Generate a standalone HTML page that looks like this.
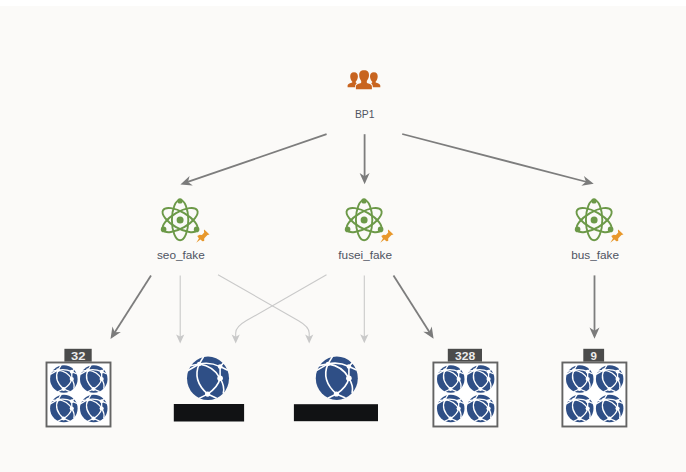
<!DOCTYPE html>
<html><head><meta charset="utf-8">
<style>
html,body{margin:0;padding:0;background:#fff;}
body{width:686px;height:472px;overflow:hidden;font-family:"Liberation Sans",sans-serif;}
svg{display:block}
text{font-family:"Liberation Sans",sans-serif;}
</style></head><body>
<svg width="686" height="472" viewBox="0 0 686 472">
<defs>
  <g id="atom" fill="none" stroke="#6c9948" stroke-width="1.9">
    <ellipse cx="0" cy="0" rx="8.2" ry="20.2"/>
    <ellipse cx="0" cy="0" rx="8.1" ry="19.7" transform="rotate(60)"/>
    <ellipse cx="0" cy="0" rx="8.1" ry="19.7" transform="rotate(-60)"/>
    <circle cx="0" cy="0" r="3.5" fill="#6c9948" stroke="none"/>
    <circle cx="-0.1" cy="-19.2" r="2.7" fill="#6c9948" stroke="none"/>
    <circle cx="-16.5" cy="9.3" r="2.8" fill="#6c9948" stroke="none"/>
    <circle cx="16.5" cy="9.3" r="2.8" fill="#6c9948" stroke="none"/>
    <path fill="#e8982c" stroke="none" d="M24.1,9.5 L29.4,14.3 L27.4,14.8 L25.4,16.8 L24.1,18.4 L24.1,20.9 L22.3,21.2 L20.3,19.4 L16.2,22.7 L18.8,18.4 L17.2,15.8 L19.5,14.6 L21.8,14.8 L24.1,12.5 L23.8,10.5 Z"/>
  </g>
  <g id="globe">
    <ellipse cx="0" cy="0" rx="21" ry="21.8" fill="#2f4f86"/>
    <g fill="none" stroke="#fff" stroke-width="1.6" stroke-linecap="round">
      <path d="M-8.8,-14.3 L-4.4,-21.6"/>
      <path d="M-8.8,-14.3 L-17.5,-12.6"/>
      <path d="M-8.8,-14.3 L-20,-7.8"/>
      <path d="M-8.8,-14.3 Q2,-16.8 12.1,-11.7"/>
      <path d="M12.1,-11.7 L15.8,-15.8"/>
      <path d="M12.1,-11.7 L19.3,-8.4"/>
      <path d="M-8.8,-14.3 Q-16,2 -0.4,15.8"/>
      <path d="M-8.8,-14.3 Q6,-12 12.1,0"/>
      <path d="M12.1,-11.7 L12.1,0"/>
      <path d="M12.1,0 Q10,9 -0.4,15.8"/>
      <path d="M12.1,0 Q17,8 15.3,14.6"/>
      <path d="M-0.4,15.8 L-8.5,19.8"/>
      <path d="M-0.4,15.8 L8.2,19.6"/>
    </g>
    <g fill="#fff">
      <circle cx="-8.8" cy="-14.3" r="2.2"/>
      <circle cx="12.1" cy="-11.7" r="2.3"/>
      <circle cx="12.1" cy="0" r="2.8"/>
      <circle cx="-0.4" cy="15.8" r="2.6"/>
    </g>
  </g>
  <g id="globeS">
    <ellipse cx="0" cy="0" rx="21" ry="21.8" fill="#2f4f86"/>
    <g fill="none" stroke="#fff" stroke-width="2.0" stroke-linecap="round">
      <path d="M-8.8,-14.3 L-4.4,-21.6"/>
      <path d="M-8.8,-14.3 L-17.5,-12.6"/>
      <path d="M-8.8,-14.3 L-20,-7.8"/>
      <path d="M-8.8,-14.3 Q2,-16.8 12.1,-11.7"/>
      <path d="M12.1,-11.7 L15.8,-15.8"/>
      <path d="M12.1,-11.7 L19.3,-8.4"/>
      <path d="M-8.8,-14.3 Q-16,2 -0.4,15.8"/>
      <path d="M-8.8,-14.3 Q6,-12 12.1,0"/>
      <path d="M12.1,-11.7 L12.1,0"/>
      <path d="M12.1,0 Q10,9 -0.4,15.8"/>
      <path d="M12.1,0 Q17,8 15.3,14.6"/>
      <path d="M-0.4,15.8 L-8.5,19.8"/>
      <path d="M-0.4,15.8 L8.2,19.6"/>
    </g>
    <g fill="#fff">
      <circle cx="-8.8" cy="-14.3" r="3.0"/>
      <circle cx="12.1" cy="-11.7" r="3.0"/>
      <circle cx="12.1" cy="0" r="3.2"/>
      <circle cx="-0.4" cy="15.8" r="3.0"/>
    </g>
  </g>
  <g id="grp">
    <rect x="1" y="1" width="64" height="64" fill="#fff" stroke="#646464" stroke-width="1.9"/>
    <use href="#globeS" transform="translate(18.35,17.55) scale(0.655,0.63)"/>
    <use href="#globeS" transform="translate(48.25,17.55) scale(0.655,0.63)"/>
    <use href="#globeS" transform="translate(18.35,47.05) scale(0.655,0.63)"/>
    <use href="#globeS" transform="translate(48.25,47.05) scale(0.655,0.63)"/>
  </g>
  <path id="hd" d="M0,0 L-11.4,5 L-8,0 L-11.4,-5 Z"/>
  <path id="hl" d="M0,0 L-9,4.1 L-6.8,0 L-9,-4.1 Z"/>
</defs>

<rect x="0" y="0" width="686" height="472" fill="#ffffff"/>
<rect x="0" y="6" width="686" height="466" fill="#fbfaf8"/>

<!-- people icon -->
<g fill="#c8641f">
  <path d="M359.2,75.2 C359.2,72 360.6,70.2 364.1,70.2 C367.6,70.2 369,72 369,75.2 C369,77.6 367.8,79.6 366.8,80.9 L366.8,82.4 C366.8,83.6 371.9,83.2 371.9,86.4 L371.9,89.2 L355.9,89.2 L355.9,86.4 C355.9,83.2 361.2,83.6 361.2,82.4 L361.2,80.9 C360.2,79.6 359.2,77.6 359.2,75.2 Z"/>
  <path d="M350.2,76.6 C350.2,73.8 351.2,72.2 354,72.2 C356.8,72.2 357.9,73.8 357.9,76.6 C357.9,78.8 356.8,80.6 355.7,81.8 L355.7,82.6 L356.7,83.2 C355.4,84.4 355.1,85.4 355.1,87.2 L347.6,87.2 L347.6,85.6 C347.6,83.4 352.3,82.8 352.3,82.2 L352.3,81.8 C351.2,80.6 350.2,78.8 350.2,76.6 Z"/>
  <path d="M377.7,76.6 C377.7,73.8 376.7,72.2 373.9,72.2 C371.1,72.2 370,73.8 370,76.6 C370,78.8 371.1,80.6 372.2,81.8 L372.2,82.6 L371.2,83.2 C372.5,84.4 372.8,85.4 372.8,87.2 L380.3,87.2 L380.3,85.6 C380.3,83.4 375.6,82.8 375.6,82.2 L375.6,81.8 C376.7,80.6 377.7,78.8 377.7,76.6 Z"/>
</g>
<text x="364.7" y="118.2" font-size="10.4" fill="#4f5462" text-anchor="middle">BP1</text>

<!-- dark arrows -->
<g stroke="#7d7d7d" stroke-width="1.8" fill="none">
  <line x1="326.6" y1="134.2" x2="187" y2="182.2"/>
  <line x1="364.6" y1="134.2" x2="364.6" y2="178"/>
  <line x1="402.2" y1="134" x2="587" y2="182"/>
  <line x1="151" y1="275.5" x2="114" y2="333.5"/>
  <line x1="393.5" y1="275.4" x2="430" y2="333"/>
  <line x1="594.5" y1="275.4" x2="594.5" y2="332"/>
</g>
<g fill="#7b7b7b">
  <use href="#hd" transform="translate(180.4,184.5) rotate(161)"/>
  <use href="#hd" transform="translate(364.6,184.3) rotate(90)"/>
  <use href="#hd" transform="translate(593.7,183.7) rotate(14.6)"/>
  <use href="#hd" transform="translate(110.5,338.9) rotate(122.6)"/>
  <use href="#hd" transform="translate(433.6,338.8) rotate(57.7)"/>
  <use href="#hd" transform="translate(594.5,338.8) rotate(90)"/>
</g>
<!-- light arrows -->
<g stroke="#c9c9c9" stroke-width="1.1" fill="none">
  <line x1="180.2" y1="275.5" x2="180.2" y2="338"/>
  <line x1="364.3" y1="275.4" x2="364.3" y2="338"/>
  <path d="M218,274.8 L298.5,320.7 Q309.2,326.8 309.2,333 L309.2,338"/>
  <path d="M326.5,274.8 L246.5,320.6 Q235.7,326.8 235.7,333 L235.7,338"/>
</g>
<g fill="#c9c9c9">
  <use href="#hl" transform="translate(180.2,343.4) rotate(90)"/>
  <use href="#hl" transform="translate(364.3,343.3) rotate(90)"/>
  <use href="#hl" transform="translate(309.2,343.6) rotate(90)"/>
  <use href="#hl" transform="translate(235.7,343.6) rotate(90)"/>
</g>

<!-- atoms -->
<use href="#atom" transform="translate(180.1,220.1)"/>
<use href="#atom" transform="translate(364.1,220.1)"/>
<use href="#atom" transform="translate(594.1,220.1)"/>
<g font-size="11.8" fill="#4f5462" text-anchor="middle">
  <text x="180.9" y="259.4">seo_fake</text>
  <text x="365.2" y="259.4">fusei_fake</text>
  <text x="595.1" y="259.4">bus_fake</text>
</g>

<!-- groups -->
<use href="#grp" transform="translate(45.5,361.5)"/>
<use href="#grp" transform="translate(432.4,361.5)"/>
<use href="#grp" transform="translate(561.4,361.5)"/>
<g fill="#4b4b4b">
  <rect x="64.4" y="348.8" width="27.3" height="12.8"/>
  <rect x="447.8" y="348.8" width="34.2" height="12.8"/>
  <rect x="583.3" y="348.8" width="20.8" height="12.8"/>
</g>
<g font-size="10.3" font-weight="bold" fill="#ececec">
  <text x="71" y="359.9" textLength="14.4" lengthAdjust="spacingAndGlyphs">32</text>
  <text x="455" y="359.9" textLength="20.2" lengthAdjust="spacingAndGlyphs">328</text>
  <text x="590.6" y="359.9" textLength="6.4" lengthAdjust="spacingAndGlyphs">9</text>
</g>

<!-- single globes -->
<use href="#globe" transform="translate(208,378.3)"/>
<use href="#globe" transform="translate(336.8,378.2)"/>
<rect x="173.8" y="404" width="70.3" height="17.5" fill="#111214"/>
<rect x="293.9" y="404.2" width="84.1" height="17" fill="#111214"/>
</svg>
</body></html>
